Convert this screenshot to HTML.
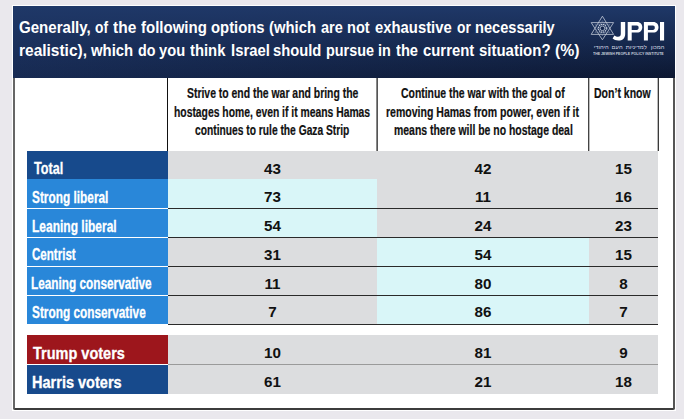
<!DOCTYPE html>
<html><head><meta charset="utf-8">
<style>
*{margin:0;padding:0;box-sizing:border-box}
html,body{width:684px;height:419px;overflow:hidden;background:#eae8ed;font-family:"Liberation Sans",sans-serif}
.a{position:absolute}
.tx{font-weight:bold;white-space:nowrap;transform-origin:0 0;line-height:normal}
.heb{top:43.95px;font-size:5.8px;line-height:normal;color:#d3d8e3;white-space:nowrap}
.c{background:#dcdddf}
.cy{background:#d9f6f8}
.num{font-size:15.2px;font-weight:bold;color:#111;text-align:center;line-height:normal}
</style></head><body>
<div class="a" style="left:12px;top:5px;width:664px;height:406px;background:#fff"></div>
<div class="a" style="left:13px;top:6px;width:662px;height:72px;background:linear-gradient(180deg,#1f3868 0%,rgba(31,56,104,0) 100%),linear-gradient(90deg,#172a52 0%,#0c1731 100%)"></div>
<div class="a" style="left:13px;top:78px;width:662px;height:332px;background:#fff;border:2px solid #3c3c3c;border-left-color:#666;border-right-color:#555;border-top:none;border-radius:0 0 2px 2px"></div>
<div class="a" style="left:167px;top:78px;width:1px;height:73px;background:#111"></div>
<div class="a" style="left:376px;top:78px;width:1px;height:73px;background:#888"></div>
<div class="a" style="left:377px;top:78px;width:1px;height:73px;background:#555"></div>
<div class="a" style="left:588px;top:78px;width:1px;height:73px;background:#444"></div>
<div class="a" style="left:589px;top:78px;width:1px;height:73px;background:#bbb"></div>
<div class="a" style="left:657px;top:78px;width:1px;height:73px;background:#bbb"></div>
<div class="a" style="left:658px;top:78px;width:1px;height:73px;background:#3a3a3a"></div>
<svg class="a" style="left:586px;top:12px" width="82" height="32" viewBox="586 12 82 32">
<g fill="none" stroke="#c3cad8" stroke-width="0.8">
<path d="M602.4 16.2L613.6 34.4H591.2Z"/>
<path d="M602.4 39.8L613.6 22.6H591.2Z"/>
<path d="M602.4 20.6L609.9 32.6H594.9Z" stroke-width="0.45" stroke="#7f8cab"/>
<path d="M602.4 35.9L609.9 24.4H594.9Z" stroke-width="0.45" stroke="#7f8cab"/>
<circle cx="602.4" cy="28.3" r="3.9" stroke-width="1.2" stroke="#c6cddb" stroke-dasharray="1.3 0.75"/>
<circle cx="602.4" cy="28.3" r="2.3" stroke-width="0.9" stroke="#b3bccd"/>
</g>
<rect x="601.2" y="27.1" width="2.4" height="2.4" fill="#13244a"/>
<g fill="#fff" fill-rule="evenodd">
<path d="M620.8 22H625.2V34C625.2 38.3 622.4 40.6 618.4 40.6C615.9 40.6 613.9 39.8 612.6 38.6L614.4 35.4C615.5 36.3 616.8 36.8 618 36.8C620 36.8 620.8 35.9 620.8 33.8Z"/>
<path d="M627.7 22H637.1C640.4 22 642.3 24.3 642.3 27.3C642.3 30.3 640.4 32.6 637.1 32.6H631.7V40.5H627.7ZM631.7 25.5H636.7C638.0 25.5 638.6 26.4 638.6 27.7C638.6 29 638.0 29.9 636.7 29.9H631.7Z"/>
<path d="M643.9 22H653.3C656.6 22 658.5 24.3 658.5 27.3C658.5 30.3 656.6 32.6 653.3 32.6H647.9V40.5H643.9ZM647.9 25.5H652.9C654.2 25.5 654.8 26.4 654.8 27.7C654.8 29 654.2 29.9 652.9 29.9H647.9Z"/>
<rect x="660" y="22" width="4.1" height="18.5"/>
</g>
</svg>
<div class="a heb" style="left:593.7px">היהודי</div><div class="a heb" style="left:611.6px">העם</div><div class="a heb" style="left:625.8px">למדיניות</div><div class="a heb" style="left:650.8px">המכון</div>
<div class="a" style="left:593.2px;top:51px;font-size:4.4px;line-height:normal;font-weight:bold;color:#c9cfdc;white-space:nowrap;transform-origin:0 0;transform:scaleX(.81)">THE JEWISH PEOPLE POLICY INSTITUTE</div>
<div class="a" style="left:27px;top:151px;width:141px;height:28px;background:#174a8c"></div>
<div class="a c" style="left:168px;top:151px;width:209px;height:28px"></div>
<div class="a num" style="left:168px;top:159.94px;width:209px">43</div>
<div class="a c" style="left:377px;top:151px;width:212px;height:28px"></div>
<div class="a num" style="left:377px;top:159.94px;width:212px">42</div>
<div class="a c" style="left:589px;top:151px;width:69px;height:28px"></div>
<div class="a num" style="left:589px;top:159.94px;width:69px">15</div>
<div class="a" style="left:27px;top:179px;width:141px;height:29px;background:#2987d9"></div>
<div class="a cy" style="left:168px;top:179px;width:209px;height:29px"></div>
<div class="a num" style="left:168px;top:188.24px;width:209px">73</div>
<div class="a c" style="left:377px;top:179px;width:212px;height:29px"></div>
<div class="a num" style="left:377px;top:188.24px;width:212px">11</div>
<div class="a c" style="left:589px;top:179px;width:69px;height:29px"></div>
<div class="a num" style="left:589px;top:188.24px;width:69px">16</div>
<div class="a" style="left:168px;top:208px;width:490px;height:1px;background:#2a2a2a"></div>
<div class="a" style="left:27px;top:208px;width:141px;height:1px;background:#fff"></div>
<div class="a" style="left:27px;top:209px;width:141px;height:28px;background:#2987d9"></div>
<div class="a cy" style="left:168px;top:209px;width:209px;height:28px"></div>
<div class="a num" style="left:168px;top:217.14px;width:209px">54</div>
<div class="a c" style="left:377px;top:209px;width:212px;height:28px"></div>
<div class="a num" style="left:377px;top:217.14px;width:212px">24</div>
<div class="a c" style="left:589px;top:209px;width:69px;height:28px"></div>
<div class="a num" style="left:589px;top:217.14px;width:69px">23</div>
<div class="a" style="left:168px;top:237px;width:490px;height:1px;background:#2a2a2a"></div>
<div class="a" style="left:27px;top:237px;width:141px;height:1px;background:#fff"></div>
<div class="a" style="left:27px;top:238px;width:141px;height:28px;background:#2987d9"></div>
<div class="a c" style="left:168px;top:238px;width:209px;height:28px"></div>
<div class="a num" style="left:168px;top:245.74px;width:209px">31</div>
<div class="a cy" style="left:377px;top:238px;width:212px;height:28px"></div>
<div class="a num" style="left:377px;top:245.74px;width:212px">54</div>
<div class="a c" style="left:589px;top:238px;width:69px;height:28px"></div>
<div class="a num" style="left:589px;top:245.74px;width:69px">15</div>
<div class="a" style="left:168px;top:266px;width:490px;height:1px;background:#2a2a2a"></div>
<div class="a" style="left:27px;top:266px;width:141px;height:1px;background:#fff"></div>
<div class="a" style="left:27px;top:267px;width:141px;height:28px;background:#2987d9"></div>
<div class="a c" style="left:168px;top:267px;width:209px;height:28px"></div>
<div class="a num" style="left:168px;top:274.74px;width:209px">11</div>
<div class="a cy" style="left:377px;top:267px;width:212px;height:28px"></div>
<div class="a num" style="left:377px;top:274.74px;width:212px">80</div>
<div class="a c" style="left:589px;top:267px;width:69px;height:28px"></div>
<div class="a num" style="left:589px;top:274.74px;width:69px">8</div>
<div class="a" style="left:168px;top:295px;width:490px;height:1px;background:#2a2a2a"></div>
<div class="a" style="left:27px;top:295px;width:141px;height:1px;background:#fff"></div>
<div class="a" style="left:27px;top:296px;width:141px;height:28px;background:#2987d9"></div>
<div class="a c" style="left:168px;top:296px;width:209px;height:28px"></div>
<div class="a num" style="left:168px;top:303.44px;width:209px">7</div>
<div class="a cy" style="left:377px;top:296px;width:212px;height:28px"></div>
<div class="a num" style="left:377px;top:303.44px;width:212px">86</div>
<div class="a c" style="left:589px;top:296px;width:69px;height:28px"></div>
<div class="a num" style="left:589px;top:303.44px;width:69px">7</div>
<div class="a" style="left:168px;top:324px;width:490px;height:1px;background:#2a2a2a"></div>
<div class="a" style="left:27px;top:324px;width:141px;height:1px;background:#fff"></div>
<div class="a" style="left:27px;top:335px;width:141px;height:29px;background:#9d161c"></div>
<div class="a c" style="left:168px;top:335px;width:209px;height:29px"></div>
<div class="a num" style="left:168px;top:343.94px;width:209px">10</div>
<div class="a c" style="left:377px;top:335px;width:212px;height:29px"></div>
<div class="a num" style="left:377px;top:343.94px;width:212px">81</div>
<div class="a c" style="left:589px;top:335px;width:69px;height:29px"></div>
<div class="a num" style="left:589px;top:343.94px;width:69px">9</div>
<div class="a" style="left:168px;top:364px;width:490px;height:1px;background:#9a9a9a"></div>
<div class="a" style="left:27px;top:364px;width:141px;height:1px;background:#fff"></div>
<div class="a" style="left:27px;top:365px;width:141px;height:29px;background:#174a8c"></div>
<div class="a c" style="left:168px;top:365px;width:209px;height:29px"></div>
<div class="a num" style="left:168px;top:373.24px;width:209px">61</div>
<div class="a c" style="left:377px;top:365px;width:212px;height:29px"></div>
<div class="a num" style="left:377px;top:373.24px;width:212px">21</div>
<div class="a c" style="left:589px;top:365px;width:69px;height:29px"></div>
<div class="a num" style="left:589px;top:373.24px;width:69px">18</div>
<div class="a tx" style="left:186.73px;top:85.23px;font-size:14px;color:#111;transform:scaleX(0.7442);-webkit-text-stroke:0.2px #111">Strive to end the war and bring the</div>
<div class="a tx" style="left:174.08px;top:104.23px;font-size:14px;color:#111;transform:scaleX(0.7392);-webkit-text-stroke:0.2px #111">hostages home, even if it means Hamas</div>
<div class="a tx" style="left:194.86px;top:122.43px;font-size:14px;color:#111;transform:scaleX(0.7322);-webkit-text-stroke:0.2px #111">continues to rule the Gaza Strip</div>
<div class="a tx" style="left:401.06px;top:85.23px;font-size:14px;color:#111;transform:scaleX(0.7435);-webkit-text-stroke:0.2px #111">Continue the war with the goal of</div>
<div class="a tx" style="left:385.68px;top:104.23px;font-size:14px;color:#111;transform:scaleX(0.7517);-webkit-text-stroke:0.2px #111">removing Hamas from power, even if it</div>
<div class="a tx" style="left:393.73px;top:122.43px;font-size:14px;color:#111;transform:scaleX(0.7462);-webkit-text-stroke:0.2px #111">means there will be no hostage deal</div>
<div class="a tx" style="left:594.27px;top:84.73px;font-size:14px;color:#111;transform:scaleX(0.7521);-webkit-text-stroke:0.2px #111">Don’t know</div>
<div class="a tx" style="left:34.08px;top:158.96px;font-size:16.5px;color:#fff;transform:scaleX(0.7635);-webkit-text-stroke:0.3px #fff">Total</div>
<div class="a tx" style="left:31.84px;top:187.76px;font-size:16.5px;color:#fff;transform:scaleX(0.7181);-webkit-text-stroke:0.3px #fff">Strong liberal</div>
<div class="a tx" style="left:31.80px;top:216.66px;font-size:16.5px;color:#fff;transform:scaleX(0.7272);-webkit-text-stroke:0.3px #fff">Leaning liberal</div>
<div class="a tx" style="left:32.11px;top:245.26px;font-size:16.5px;color:#fff;transform:scaleX(0.7008);-webkit-text-stroke:0.3px #fff">Centrist</div>
<div class="a tx" style="left:31.09px;top:273.96px;font-size:16.5px;color:#fff;transform:scaleX(0.7149);-webkit-text-stroke:0.3px #fff">Leaning conservative</div>
<div class="a tx" style="left:32.02px;top:302.86px;font-size:16.5px;color:#fff;transform:scaleX(0.7168);-webkit-text-stroke:0.3px #fff">Strong conservative</div>
<div class="a tx" style="left:32.89px;top:344.36px;font-size:16.5px;color:#fff;transform:scaleX(0.8787);-webkit-text-stroke:0.3px #fff">Trump voters</div>
<div class="a tx" style="left:31.93px;top:373.06px;font-size:16.5px;color:#fff;transform:scaleX(0.8807);-webkit-text-stroke:0.3px #fff">Harris voters</div>
<div class="a tx" style="left:19.46px;top:16.74px;font-size:17.3px;color:#fff;transform:scaleX(0.8711)">Generally,</div>
<div class="a tx" style="left:94.59px;top:16.74px;font-size:17.3px;color:#fff;transform:scaleX(0.8000)">of</div>
<div class="a tx" style="left:113.00px;top:16.74px;font-size:17.3px;color:#fff;transform:scaleX(0.8981)">the</div>
<div class="a tx" style="left:140.80px;top:16.74px;font-size:17.3px;color:#fff;transform:scaleX(0.8683)">following</div>
<div class="a tx" style="left:211.15px;top:16.74px;font-size:17.3px;color:#fff;transform:scaleX(0.8595)">options</div>
<div class="a tx" style="left:269.30px;top:16.74px;font-size:17.3px;color:#fff;transform:scaleX(0.8584)">(which</div>
<div class="a tx" style="left:321.08px;top:16.74px;font-size:17.3px;color:#fff;transform:scaleX(0.8398)">are</div>
<div class="a tx" style="left:347.39px;top:16.74px;font-size:17.3px;color:#fff;transform:scaleX(0.8424)">not</div>
<div class="a tx" style="left:375.25px;top:16.74px;font-size:17.3px;color:#fff;transform:scaleX(0.8586)">exhaustive</div>
<div class="a tx" style="left:456.99px;top:16.74px;font-size:17.3px;color:#fff;transform:scaleX(0.8000)">or</div>
<div class="a tx" style="left:475.19px;top:16.74px;font-size:17.3px;color:#fff;transform:scaleX(0.8460)">necessarily</div>
<div class="a tx" style="left:18.63px;top:39.74px;font-size:17.3px;color:#fff;transform:scaleX(0.8960)">realistic),</div>
<div class="a tx" style="left:91.47px;top:39.74px;font-size:17.3px;color:#fff;transform:scaleX(0.8601)">which</div>
<div class="a tx" style="left:138.15px;top:39.74px;font-size:17.3px;color:#fff;transform:scaleX(0.8268)">do</div>
<div class="a tx" style="left:158.90px;top:39.74px;font-size:17.3px;color:#fff;transform:scaleX(0.8505)">you</div>
<div class="a tx" style="left:190.21px;top:39.74px;font-size:17.3px;color:#fff;transform:scaleX(0.8575)">think</div>
<div class="a tx" style="left:230.58px;top:39.74px;font-size:17.3px;color:#fff;transform:scaleX(0.8596)">Israel</div>
<div class="a tx" style="left:273.37px;top:39.74px;font-size:17.3px;color:#fff;transform:scaleX(0.8542)">should</div>
<div class="a tx" style="left:325.80px;top:39.74px;font-size:17.3px;color:#fff;transform:scaleX(0.8343)">pursue</div>
<div class="a tx" style="left:378.28px;top:39.74px;font-size:17.3px;color:#fff;transform:scaleX(0.8343)">in</div>
<div class="a tx" style="left:396.11px;top:39.74px;font-size:17.3px;color:#fff;transform:scaleX(0.8504)">the</div>
<div class="a tx" style="left:423.15px;top:39.74px;font-size:17.3px;color:#fff;transform:scaleX(0.8613)">current</div>
<div class="a tx" style="left:479.35px;top:39.74px;font-size:17.3px;color:#fff;transform:scaleX(0.8663)">situation?</div>
<div class="a tx" style="left:555.14px;top:39.74px;font-size:17.3px;color:#fff;transform:scaleX(0.9140)">(%)</div>
</body></html>
